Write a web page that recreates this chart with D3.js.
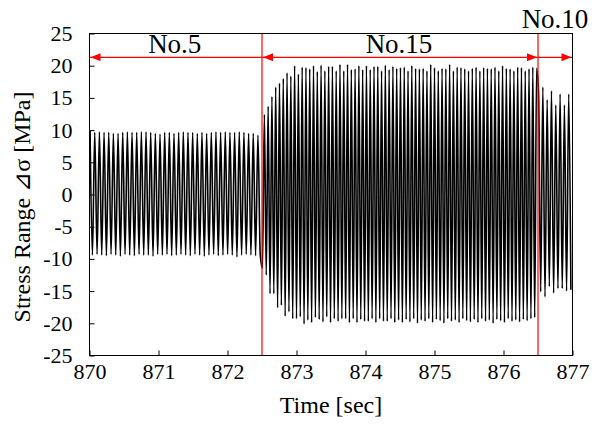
<!DOCTYPE html>
<html>
<head>
<meta charset="utf-8">
<script src="https://cdn.jsdelivr.net/npm/d3@7/dist/d3.min.js"></script>
<style>
  html, body { margin: 0; padding: 0; background: #fff; }
</style>
</head>
<body>
<svg id="chart" width="592" height="427"></svg>
<script>
// ---- data ----
const xTicks = [870, 871, 872, 873, 874, 875, 876, 877];
const yTicks = [25, 20, 15, 10, 5, 0, -5, -10, -15, -20, -25];
const boundaries = [870, 872.5, 876.5, 877];
const sectionLabels = ["No.5", "No.15", "No.10"];

// Section No.5 (870 - 872.5 s): peak first, then trough
const sec1Peaks = [9.9, 9.65, 9.75, 9.65, 9.65, 9.5, 9.5, 9.65, 9.75, 9.65, 9.65, 9.75, 9.75, 9.65, 9.5, 9.4, 9.65, 9.65, 9.5,
  9.65, 9.75, 9.65, 9.65, 9.5, 9.65, 9.5, 9.65, 9.75, 9.65, 9.75, 9.65, 9.65, 9.75, 9.65, 9.5, 9.5, 9.25];
const sec1Troughs = [-9.4, -9.3, -9.4, -9.5, -9.3, -9.4, -9.6, -9.3, -9.4, -9.5, -9.3, -9.4, -9.4, -9.6, -9.3, -9.4, -9.3, -9.5, -9.4,
  -9.3, -9.4, -9.5, -9.3, -9.4, -9.6, -9.4, -9.3, -9.5, -9.4, -9.3, -9.4, -9.7, -9.4, -9.3, -9.4, -9.5, -9.4];

// Section No.15 (872.5 - 876.5 s): trough first, then peak
const sec2Troughs = [-11.5, -12.5, -15.4, -15.4, -17.6, -17.2, -18.9, -18.2, -19.3, -19.3, -19.0, -20.1, -19.5, -19.9, -19.1, -19.4,
  -19.8, -19.0, -19.9, -19.3, -19.7, -19.3, -19.3, -19.9, -19.3, -19.9, -19.4, -19.7, -19.7, -19.3, -19.9, -19.3, -19.7, -19.7,
  -19.3, -19.9, -19.5, -19.9,
  -19.4, -19.8, -19.3, -20.0, -19.5, -19.7, -19.3, -19.9, -19.4, -19.6, -20.0, -19.3, -19.7, -19.5, -19.9, -19.3, -19.6, -19.8,
  -19.4, -19.9, -19.3, -19.7, -19.5, -20.0, -19.4, -19.6, -19.9, -19.3, -19.7, -19.5, -19.8, -19.4, -19.6, -19.3, -19.1];
const sec2Peaks = [12.4, 13.7, 15.2, 16.7, 17.3, 18.0, 18.9, 18.4, 20.0, 18.7, 19.8, 19.7, 19.5, 20.0, 19.1, 20.1, 19.2, 19.9,
  19.9, 19.2, 20.2, 19.2, 20.2, 19.4, 19.5, 20.0, 19.4, 20.0, 19.4, 19.9, 19.9, 19.2, 20.1, 19.4, 19.9, 19.6, 19.7,
  19.8, 19.2, 20.0, 19.6, 19.5, 19.6, 19.2, 20.2, 19.7, 19.2, 19.6, 19.5, 20.2, 19.2, 19.8, 19.7, 19.5, 19.2, 19.6, 19.8,
  19.2, 19.7, 19.6, 19.5, 19.8, 19.2, 20.0, 19.6, 19.5, 19.2, 19.8, 19.7, 19.2, 19.5, 19.8, 19.6];

// Section No.10 (876.5 - 877 s): peak first, then trough
const sec3Peaks = [16.0, 16.7, 14.7, 16.1, 13.9, 15.6, 13.9, 15.6];
const sec3Troughs = [-15.1, -15.9, -14.3, -15.3, -14.6, -14.6, -15.0, -14.8];

const arrowValue = 21.3;

// ---- pick an installed serif font ----
function fontAvailable(name) {
  const c = document.createElement("canvas").getContext("2d");
  const s = "No.15 Time [sec] 870 Stress Range";
  c.font = "40px monospace";
  const w0 = c.measureText(s).width;
  c.font = `40px "${name}", monospace`;
  return c.measureText(s).width !== w0;
}
const serifCandidates = ["Liberation Serif", "Times New Roman", "Tinos", "DejaVu Serif", "Noto Serif", "FreeSerif"];
const FONT = (serifCandidates.find(fontAvailable) || "serif");
const FONT_STACK = `"${FONT}", serif`;

// ---- layout ----
const svg = d3.select("#chart");
const W = 592, H = 427;
const margin = { left: 89.5, right: W - 572.5, top: 33.5, bottom: H - 355.5 };
const x = d3.scaleLinear().domain([870, 877]).range([margin.left, W - margin.right]);
const y = d3.scaleLinear().domain([-25, 25]).range([H - margin.bottom, margin.top]);

function interleave(a, b) {
  const out = [];
  for (let i = 0; i < Math.max(a.length, b.length); i++) {
    if (i < a.length) out.push(a[i]);
    if (i < b.length) out.push(b[i]);
  }
  return out;
}
const sections = [
  interleave(sec1Peaks, sec1Troughs),
  interleave(sec2Troughs, sec2Peaks),
  interleave(sec3Peaks, sec3Troughs)
];
const points = [];
sections.forEach((vals, si) => {
  const idx = d3.scaleLinear().domain([0, vals.length]).range([boundaries[si], boundaries[si + 1]]);
  vals.forEach((v, k) => points.push([idx(k + 0.25), v]));
});

svg.append("clipPath").attr("id", "clip").append("rect")
  .attr("x", x(870)).attr("y", y(25)).attr("width", x(877) - x(870)).attr("height", y(-25) - y(25));

const line = d3.line().x(d => x(d[0])).y(d => y(d[1])).curve(d3.curveMonotoneX);
svg.append("path")
  .datum(points)
  .attr("clip-path", "url(#clip)")
  .attr("d", line)
  .attr("fill", "none")
  .attr("stroke", "#000")
  .attr("stroke-width", 1.6);

svg.selectAll("line.div").data(boundaries.slice(1, 3)).enter().append("line")
  .attr("x1", d => x(d)).attr("x2", d => x(d))
  .attr("y1", y(25)).attr("y2", y(-25))
  .attr("stroke", "#ff0000").attr("stroke-width", 1.2);

const ay = y(arrowValue);
svg.append("line")
  .attr("x1", x(870)).attr("x2", x(877)).attr("y1", ay).attr("y2", ay)
  .attr("stroke", "#ff0000").attr("stroke-width", 1.2);
const heads = [
  { t: boundaries[0], dir: -1 },
  { t: boundaries[1], dir: -1 },
  { t: boundaries[2], dir: 1 },
  { t: boundaries[3], dir: 1 }
];
svg.selectAll("path.head").data(heads).enter().append("path")
  .attr("d", d => {
    const px = x(d.t) + (d.dir < 0 ? 1 : -1);
    const len = 10, hw = 4;
    return `M${px},${ay} L${px - d.dir * len},${ay - hw} L${px - d.dir * len},${ay + hw} Z`;
  })
  .attr("fill", "#ff0000");

const labelPos = [
  { x: (x(870) + x(872.5)) / 2 - 1, y: 53 },
  { x: (x(872.5) + x(876.5)) / 2 - 1, y: 53 },
  { x: 555, y: 28 }
];
svg.selectAll("text.sec").data(sectionLabels).enter().append("text")
  .attr("x", (d, i) => labelPos[i].x).attr("y", (d, i) => labelPos[i].y)
  .attr("text-anchor", "middle").attr("font-size", 27)
  .style("font-family", FONT_STACK).attr("fill", "#000").text(d => d);

svg.append("rect")
  .attr("x", x(870)).attr("y", y(25)).attr("width", x(877) - x(870)).attr("height", y(-25) - y(25))
  .attr("fill", "none").attr("stroke", "#000").attr("stroke-width", 1);

const xAxis = d3.axisBottom(x).tickValues(xTicks).tickFormat(d3.format("d")).tickSizeInner(-5).tickSizeOuter(0).tickPadding(8);
const gx = svg.append("g").attr("transform", `translate(0,${y(-25)})`).call(xAxis);
gx.select(".domain").remove();
gx.selectAll("text").attr("font-size", 22).style("font-family", FONT_STACK).attr("fill", "#000");
gx.selectAll("line").attr("stroke", "#000");

const yAxis = d3.axisLeft(y).tickValues(yTicks).tickFormat(d => String(d)).tickSizeInner(-5).tickSizeOuter(0).tickPadding(17);
const gy = svg.append("g").attr("transform", `translate(${x(870)},0)`).call(yAxis);
gy.select(".domain").remove();
gy.selectAll("text").attr("font-size", 22).style("font-family", FONT_STACK).attr("fill", "#000");
gy.selectAll("line").attr("stroke", "#000");

svg.append("text").attr("x", (x(870) + x(877)) / 2).attr("y", 413)
  .attr("text-anchor", "middle").attr("font-size", 24)
  .style("font-family", FONT_STACK).attr("fill", "#000").text("Time [sec]");
svg.append("text").attr("transform", `translate(30,207) rotate(-90)`)
  .attr("text-anchor", "middle").attr("font-size", 24)
  .style("font-family", FONT_STACK).attr("fill", "#000").text("Stress Range ⊿σ [MPa]");
</script>
</body>
</html>
